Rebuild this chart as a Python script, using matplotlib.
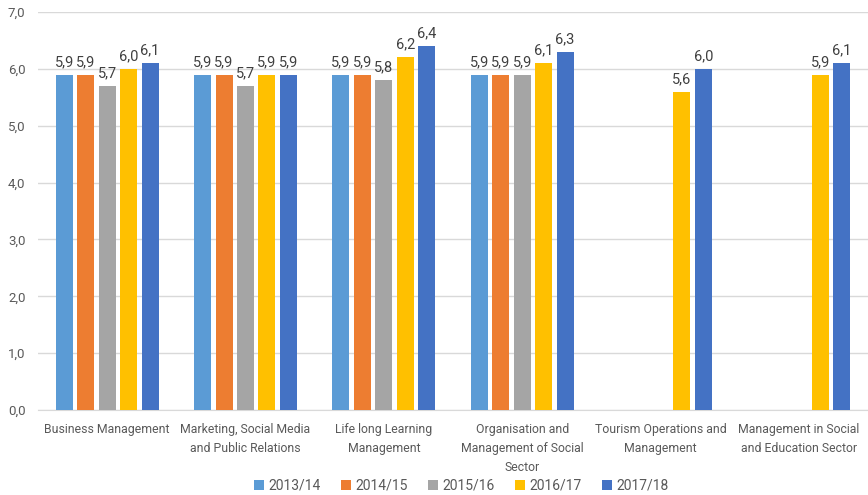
import numpy as np
import matplotlib
matplotlib.use("Agg")
import matplotlib.pyplot as plt

plt.rcParams['font.family'] = ['Roboto', 'DejaVu Sans']

categories = ["Business Management",
              "Marketing, Social Media\nand Public Relations",
              "Life long Learning\nManagement",
              "Organisation and\nManagement of Social\nSector",
              "Tourism Operations and\nManagement",
              "Management in Social\nand Education Sector"]
years = ["2013/14", "2014/15", "2015/16", "2016/17", "2017/18"]
v1314 = [5.9, 5.9, 5.9, 5.9, np.nan, np.nan]
v1415 = [5.9, 5.9, 5.9, 5.9, np.nan, np.nan]
v1516 = [5.7, 5.7, 5.8, 5.9, np.nan, np.nan]
v1617 = [6.0, 5.9, 6.2, 6.1, 5.6, 5.9]
v1718 = [6.1, 5.9, 6.4, 6.3, 6.0, 6.1]
series = [v1314, v1415, v1516, v1617, v1718]
colors = ["#5B9BD5", "#ED7D31", "#A5A5A5", "#FFC000", "#4472C4"]

fig = plt.figure(figsize=(8.68, 4.95), dpi=100)
ax = fig.add_axes([0.0438, 0.1717, 0.9562, 0.8041])

x = np.arange(len(categories))
step = 0.155
width = 0.123
for i, (vals, col, lab) in enumerate(zip(series, colors, years)):
    pos = x + (i - 2) * step
    vals = np.array(vals)
    ax.bar(pos, vals, width, color=col, label=lab, zorder=3)
    for p, v in zip(pos, vals):
        if not np.isnan(v):
            ax.text(p, v + 0.1, f"{v:.1f}".replace(".", ","), ha='center', va='bottom',
                    fontsize=10.5, color='#404040')

ax.set_xlim(-0.5, 5.5)
ax.set_ylim(0, 7)
ax.set_yticks(np.arange(0, 7.1, 1))
ax.set_yticklabels([f"{t:.1f}".replace(".", ",") for t in np.arange(0, 7.1, 1)],
                   fontsize=9.5, color='#595959')
ax.set_xticks(x)
ax.set_xticklabels(categories, fontsize=8.8, color='#595959', linespacing=1.6)
ax.tick_params(length=0, pad=9)
ax.grid(axis='y', color='#d9d9d9', linewidth=1, zorder=0)
for s in ['top', 'right', 'left']:
    ax.spines[s].set_visible(False)
ax.spines['bottom'].set_color('#d9d9d9')

ax.legend(loc='center', bbox_to_anchor=(0.51, -0.19), ncol=5, frameon=False,
          fontsize=10, handlelength=0.7, handleheight=0.7, columnspacing=1.5,
          handletextpad=0.3, labelcolor='#595959')

fig.savefig("out.png", dpi=100)
